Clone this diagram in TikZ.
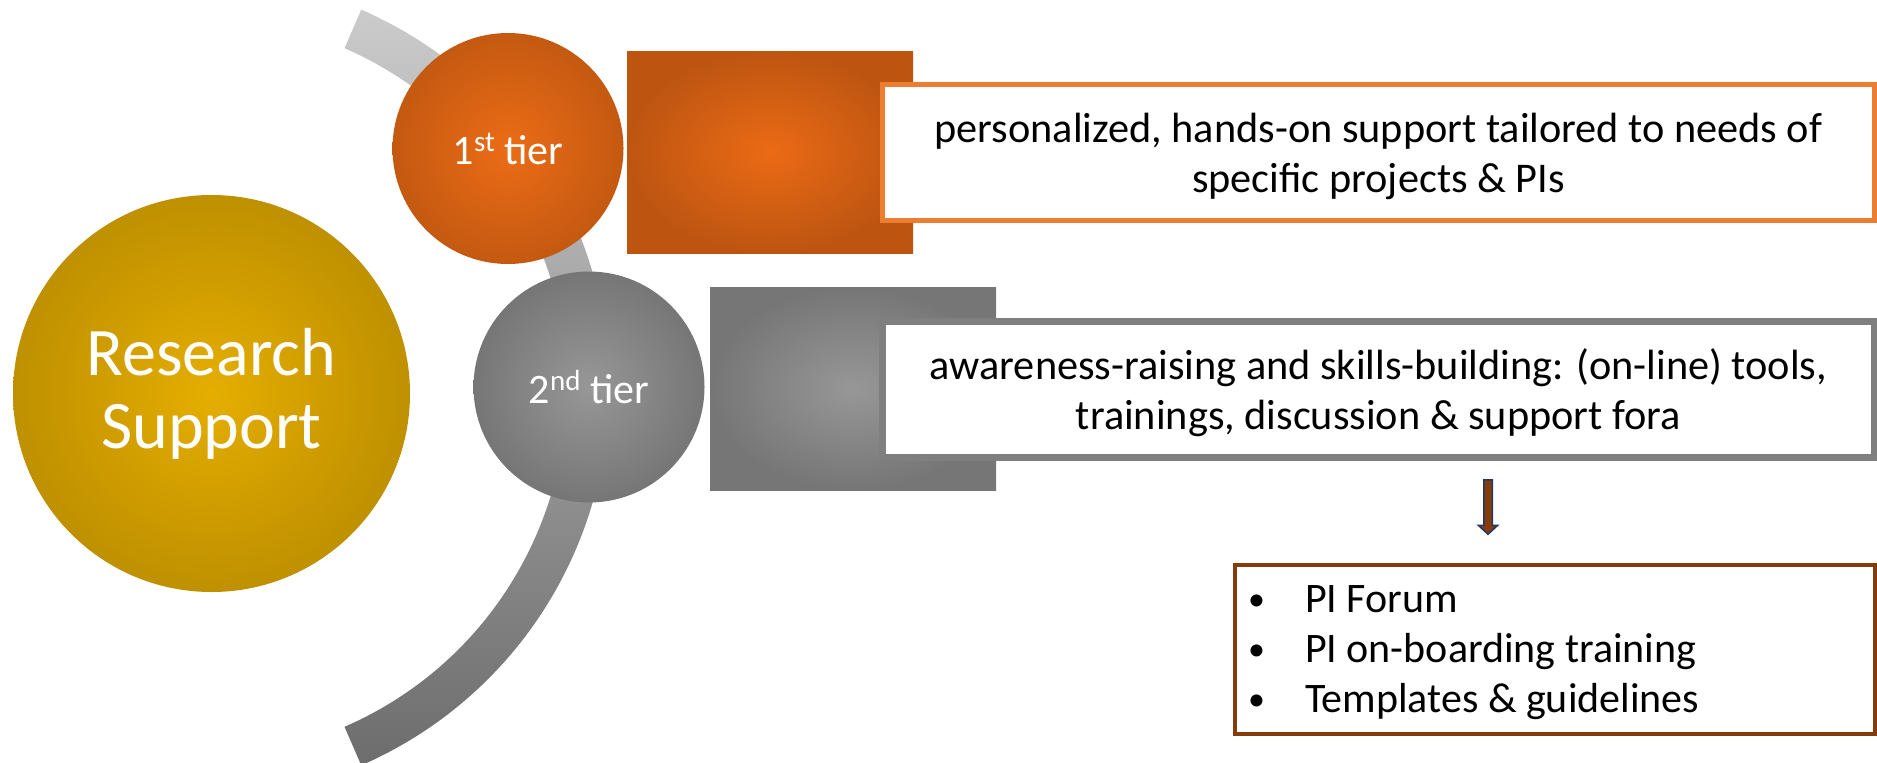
\documentclass[tikz,border=0pt]{standalone}
\usepackage{fontspec}
\setmainfont{Carlito}
\definecolor{goldin}{HTML}{E5AE00}
\definecolor{goldout}{HTML}{BF9000}
\definecolor{orin}{HTML}{EC6C16}
\definecolor{orout}{HTML}{C45911}
\definecolor{sqorin}{HTML}{EB6A15}
\definecolor{sqorout}{HTML}{BD5511}
\definecolor{grin}{HTML}{979797}
\definecolor{grout}{HTML}{767676}
\definecolor{arctop}{HTML}{CBCBCB}
\definecolor{arcbot}{HTML}{6D6D6D}
\definecolor{orline}{HTML}{ED7D31}
\definecolor{grline}{HTML}{7F7F7F}
\definecolor{brline}{HTML}{843C0C}
\definecolor{navy}{HTML}{1F3864}
\newcommand{\supx}[1]{\raisebox{13pt}{\fontsize{29}{29}\selectfont #1}}
\newcommand{\bul}{\makebox[52pt][l]{\hspace*{-5pt}\raisebox{2pt}{\fontsize{34}{34}\selectfont •}}}
\newcommand{\topstrut}[1]{\rule{0pt}{#1}}
\begin{document}
\begin{tikzpicture}[x=1pt,y=-1pt,
  bigtxt/.style={text=white,font=\fontsize{68}{73}\selectfont,align=center},
  tierdisc/.style={circle,inner sep=0pt,minimum size=231pt,shading=radial,text=white,font=\fontsize{42}{50}\selectfont},
  blockfill/.style={rectangle,inner sep=0pt,minimum width=286pt,minimum height=202pt,shading=radial},
  infobox/.style={rectangle,fill=white,inner sep=0pt,minimum width=992pt,minimum height=136pt,align=flush center,font=\fontsize{42.3}{50}\selectfont},
]
\useasboundingbox (0,0) rectangle (1877,763);
% arc band
\coordinate (ac) at (197,387.5);
\path[top color=arctop,bottom color=arcbot]
  ([shift={(-66.5:412)}]ac) arc[start angle=-66.5,end angle=66.5,radius=412]
  -- ([shift={(66.5:370)}]ac) arc[start angle=66.5,end angle=-66.5,radius=370] -- cycle;
% main circle
\node[circle,inner sep=0pt,minimum size=397pt,shading=radial,inner color=goldin,outer color=goldout,bigtxt] (rs) at (211.5,393.5) {Research\\Support};
% tiers
\node[tierdisc,inner color=orin,outer color=orout] (t1) at (508,148.5) {1\supx{st} tier};
\node[tierdisc,inner color=grin,outer color=grout] (t2) at (589,387) {2\supx{nd} tier};
% squares
\node[blockfill,inner color=sqorin,outer color=sqorout] (s1) at (770,152) {};
\node[blockfill,inner color=grin,outer color=grout,minimum height=203pt] (s2) at (853,388.5) {};
% text boxes
\node[infobox,draw=orline,line width=5pt] (b1) at (1378.5,152.5) {\topstrut{38pt}personalized, hands-on support tailored to needs of\\specific projects \& PIs};
\node[infobox,draw=grline,line width=7pt] (b2) at (1378.5,389.5) {\topstrut{37pt}awareness-raising and skills-building: (on-line) tools,\\trainings, discussion \& support fora};
% block arrow
\coordinate (ap) at (1488,479.75);
\filldraw[fill=brline,draw=navy,line width=1.5pt,line join=miter]
  (ap) ++(-4.25,0) -- ++(8.5,0) -- ++(0,45.5) -- ++(5.5,0) -- ++(-9.75,9) -- ++(-9.75,-9) -- ++(5.5,0) -- cycle;
% list box
\node[rectangle,draw=brline,line width=4pt,fill=white,minimum width=640pt,minimum height=169pt,inner xsep=18pt,inner ysep=0pt,text width=604pt,align=flush left,font=\fontsize{42}{50}\selectfont] (lst) at (1555,649.5)
 {\topstrut{34pt}\bul PI Forum\\\bul PI on-boarding training\\\bul Templates \& guidelines};
\end{tikzpicture}
\end{document}
